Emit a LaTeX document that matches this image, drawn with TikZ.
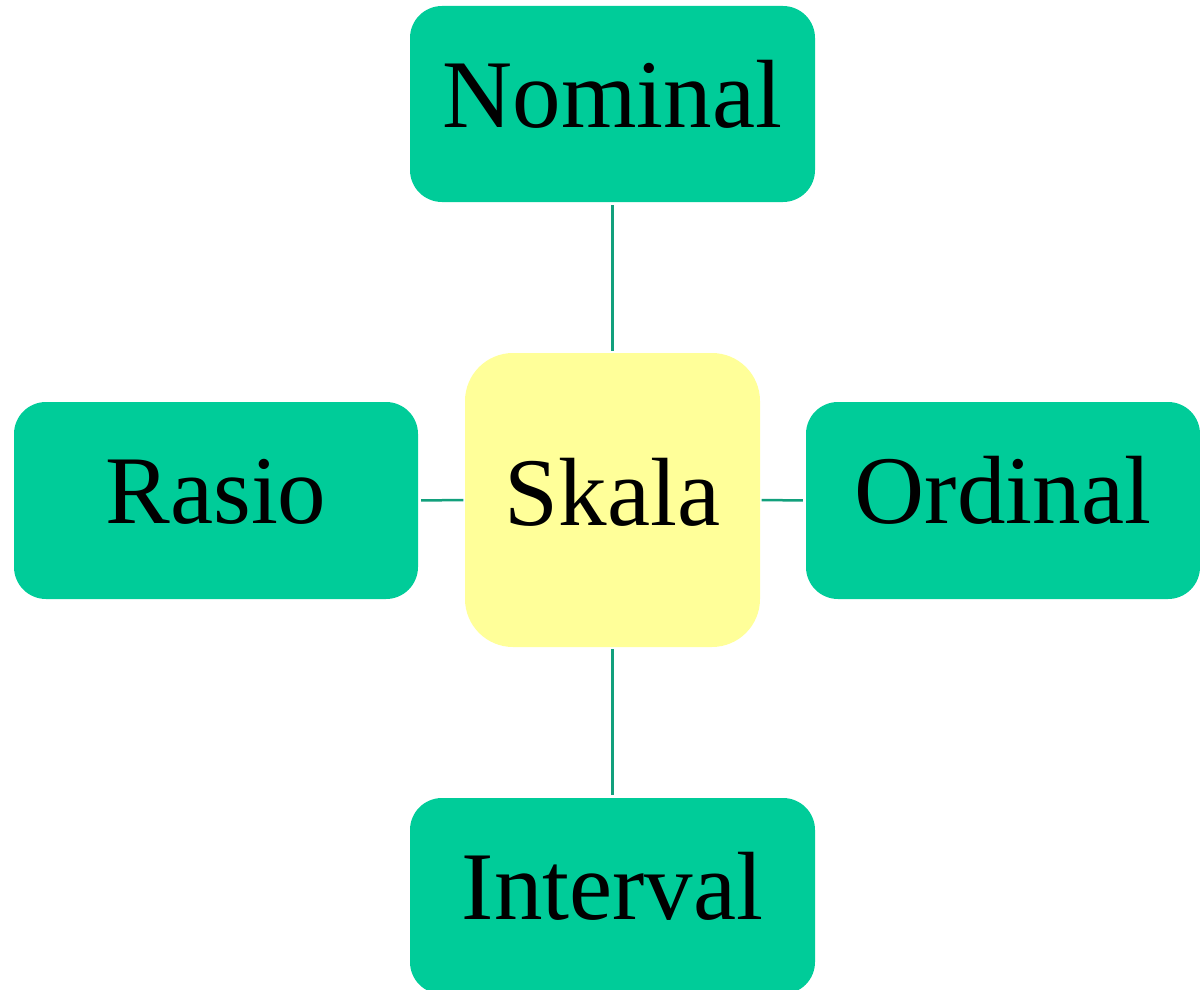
\documentclass[tikz,border=0pt]{standalone}
\usepackage{fontspec}
\setmainfont{Liberation Serif}
\definecolor{boxgreen}{HTML}{00CC99}
\definecolor{boxyellow}{HTML}{FFFF99}
\definecolor{linegreen}{HTML}{12A07C}
\tikzset{
  leaf/.style={fill=boxgreen, draw=none, rounded corners=32pt, minimum width=405pt, minimum height=196pt,
    inner sep=0pt, text height=70pt, text depth=24pt, font=\fontsize{97}{107}\selectfont},
  hub/.style={fill=boxyellow, draw=none, rounded corners=48pt, minimum width=295pt, minimum height=294pt,
    inner sep=0pt, text height=70pt, text depth=20pt, font=\fontsize{97}{107}\selectfont},
  link/.style={draw=linegreen, line width=2.5pt, shorten <=3pt, shorten >=1.5pt}
}
\begin{document}
\begin{tikzpicture}[x=1pt, y=-1pt]
\useasboundingbox (0,0) rectangle (1200,990);
\node[hub] (skala) at (612.5,500) {Skala};
\node[leaf] (nominal) at (612.5,104) {Nominal};
\node[leaf, minimum width=404pt, minimum height=197pt] (rasio) at (216,500.5) {Rasio};
\node[leaf, minimum width=394pt, minimum height=197pt] (ordinal) at (1003,500.5) {Ordinal};
\node[leaf] (interval) at (612.5,896) {Interval};
\draw[link] (nominal.south) -- (skala.north);
\draw[link] (interval.north) -- (skala.south);
\draw[link] (rasio.east) -- (skala.west);
\draw[link] (ordinal.west) -- (skala.east);
\end{tikzpicture}
\end{document}
